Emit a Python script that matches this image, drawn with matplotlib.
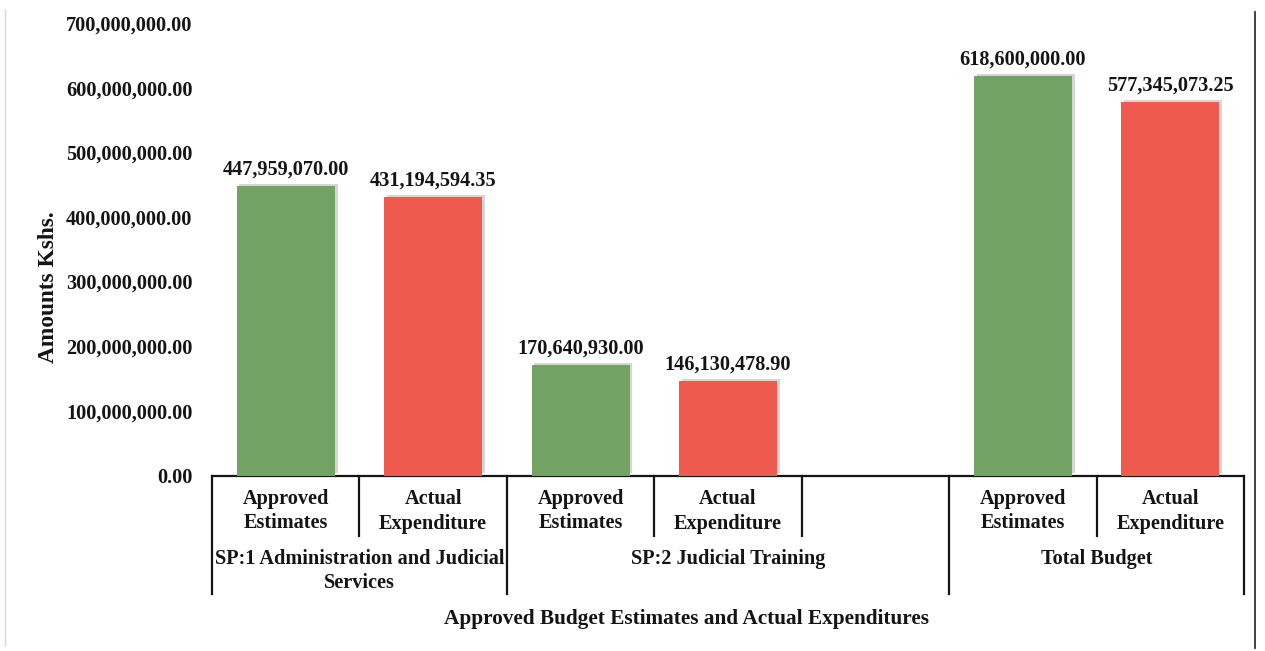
import matplotlib
matplotlib.use("Agg")
import matplotlib.pyplot as plt
import matplotlib.patheffects as pe
from matplotlib.lines import Line2D

# ---- data ----
slot_labels = ["Approved\nEstimates", "Actual\nExpenditure",
               "Approved\nEstimates", "Actual\nExpenditure", "",
               "Approved\nEstimates", "Actual\nExpenditure"]
values = [447959070.00, 431194594.35,
          170640930.00, 146130478.90, None,
          618600000.00, 577345073.25]
value_labels = ["447,959,070.00", "431,194,594.35",
                "170,640,930.00", "146,130,478.90", "",
                "618,600,000.00", "577,345,073.25"]
groups = ["SP:1 Administration and Judicial\nServices", "SP:2 Judicial Training", "Total Budget"]
group_spans = [(0, 1), (2, 4), (5, 6)]
y_ticks = [0, 100e6, 200e6, 300e6, 400e6, 500e6, 600e6, 700e6]
y_tick_labels = ["0.00", "100,000,000.00", "200,000,000.00", "300,000,000.00",
                 "400,000,000.00", "500,000,000.00", "600,000,000.00", "700,000,000.00"]
bar_kinds = ["approved", "actual", "approved", "actual", None, "approved", "actual"]

GREEN = "#73a364"
RED = "#ef5a4e"

plt.rcParams['font.family'] = ['Liberation Serif', 'DejaVu Serif']
plt.rcParams['font.weight'] = 'bold'
FS = 14.6
TXT = "#141414"

W, H = 1265, 651
fig = plt.figure(figsize=(W / 100, H / 100), dpi=100)
left_px, right_px, top_px, bot_px = 212, 1244, 23, 475.5
ax = fig.add_axes([left_px / W, (H - bot_px) / H, (right_px - left_px) / W, (bot_px - top_px) / H])

xs = list(range(len(values)))
for x, v, kind, lab in zip(xs, values, bar_kinds, value_labels):
    if v is None:
        continue
    col = GREEN if kind == "approved" else RED
    ax.bar(x, v, width=0.665, color=col, edgecolor="none", zorder=3,
           path_effects=[pe.SimplePatchShadow(offset=(2, 1.5), shadow_rgbFace="#9a9a9a", alpha=0.4),
                         pe.Normal()])
    ax.annotate(lab, (x, v), xytext=(0, 4.5), textcoords="offset points",
                ha="center", va="bottom", fontsize=FS, fontweight="bold", color=TXT)

ax.set_xlim(-0.5, len(values) - 0.5)
ax.set_ylim(0, 700e6)
ax.set_yticks(y_ticks)
ax.set_yticklabels(y_tick_labels, fontsize=FS, fontweight="bold", color=TXT)
ax.tick_params(axis="y", length=0, pad=14)
ax.set_xticks([])
for s in ["top", "right", "left"]:
    ax.spines[s].set_visible(False)
ax.spines["bottom"].set_linewidth(1.6)
ax.spines["bottom"].set_color(TXT)

axh = bot_px - top_px
def ay(px):
    return -(px - bot_px) / axh

trans = ax.get_xaxis_transform()
short_end = ay(536)
long_end = ay(594)
group_bounds = set()
for a, b in group_spans:
    group_bounds.add(a - 0.5)
    group_bounds.add(b + 0.5)
for i in range(len(values) + 1):
    xb = i - 0.5
    yend = long_end if xb in group_bounds else short_end
    ax.add_line(Line2D([xb, xb], [0, yend], transform=trans, color=TXT,
                       lw=1.6, clip_on=False))

for x, lab in zip(xs, slot_labels):
    if lab:
        ax.text(x, ay(489), lab, transform=trans, ha="center", va="top",
                fontsize=FS, fontweight="bold", linespacing=1.3, color=TXT)

for g, (a, b) in zip(groups, group_spans):
    ax.text((a + b) / 2, ay(549), g, transform=trans, ha="center", va="top",
            fontsize=FS, fontweight="bold", linespacing=1.3, color=TXT)

fig.text(49 / W, 1 - 287 / H, "Amounts Kshs.", rotation=90, ha="center", va="center",
         fontsize=16.8, fontweight="bold", color=TXT)
fig.text(687 / W, 1 - 619 / H, "Approved Budget Estimates and Actual Expenditures",
         ha="center", va="center", fontsize=15.3, fontweight="bold", color=TXT)

# page borders from the scan
fig.add_artist(Line2D([1255 / W, 1255 / W], [1 - 12 / H, 1 - 648 / H], transform=fig.transFigure,
                      color="#333333", lw=1.3))
fig.add_artist(Line2D([5 / W, 5 / W], [1 - 10 / H, 1 - 645 / H], transform=fig.transFigure,
                      color="#d8d8e0", lw=1.0))

fig.savefig("out.png", dpi=100)
